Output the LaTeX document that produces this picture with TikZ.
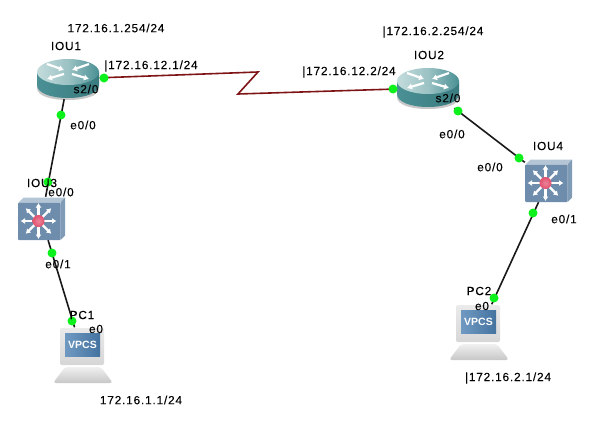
\documentclass[tikz,border=0pt]{standalone}
\usepackage{fontspec}
\setmainfont[LetterSpace=7,FakeBold=0.2]{Liberation Sans}
\newfontfamily\screenfont{Liberation Sans}
\usepackage{xcolor}
\usetikzlibrary{
	arrows.meta,
	calc
}
\definecolor{serialred}{HTML}{7E1416}
\definecolor{portgreen}{HTML}{0CF01C}
\definecolor{routerdark}{HTML}{3A7B7F}
\definecolor{routermid}{HTML}{4A9094}
\definecolor{routerlight}{HTML}{C4DCDC}
\definecolor{switchblue}{HTML}{6E8DAC}
\definecolor{switchlight}{HTML}{B4C6D6}
\definecolor{switchdark}{HTML}{7F9BB6}
\definecolor{screenblue}{HTML}{4C80B2}
\definecolor{hubred}{HTML}{E2506E}
\tikzset{
	routernode/.style={minimum width=63pt, minimum height=40pt, inner sep=0pt},
	switchnode/.style={minimum width=47pt, minimum height=43pt, inner sep=0pt},
	vpcsnode/.style={minimum width=60pt, minimum height=55pt, inner sep=0pt},
	port/.style={circle, fill=portgreen, minimum size=9pt, inner sep=0pt},
	wire/.style={line width=1.6pt, black!90},
	serial/.style={line width=1.6pt, serialred},
	lbl/.style={inner sep=0pt, font=\fontsize{11.8}{14}\selectfont},
	routericon/.pic={
		\fill[black!22] (-31,-4) -- (-31,9) .. controls (-31,17) and (-17,21) .. (0,21)
			.. controls (17,21) and (31,17) .. (31,9) -- (31,-4) -- cycle;
		\shade[left color=routermid, right color=routerdark] (-31,-7) -- (-31,6)
			.. controls (-31,14) and (-17,19) .. (0,19)
			.. controls (17,19) and (31,14) .. (31,6) -- (31,-7) -- cycle;
		\shade[left color=routerlight, right color=routermid, middle color=routermid!55!white]
			(0,-7) ellipse [x radius=31, y radius=13];
		\foreach \sx in {-1,1}{
			\draw[white, line width=2.2pt, -{Latex[length=5pt,width=6.5pt]}] (\sx*21,-15) -- (\sx*4,-9);
			\draw[white, line width=2.2pt, -{Latex[length=5pt,width=6.5pt]}] (\sx*4,-5) -- (\sx*21,0);
		}
	},
	switchicon/.pic={
		\fill[switchlight] (-23,-16) -- (-18,-21) -- (23.5,-21) -- (19,-16) -- cycle;
		\fill[switchdark] (19,-16) -- (23.5,-21) -- (23.5,17) -- (19,21.5) -- cycle;
		\fill[switchblue, rounded corners=1pt] (-23.5,-16) rectangle (19,21.5);
		\foreach \ang in {0,45,...,315}{
			\draw[white, line width=2.2pt, -{Latex[length=4.5pt,width=6pt]}]
				(-3,2.5) -- ++(\ang:18);
		}
		\shade[inner color=hubred!70!white, outer color=hubred] (-3,2.5) circle (6);
	},
	vpcsicon/.pic={
		\shade[top color=black!6, bottom color=black!22, rounded corners=3pt]
			(-18,12) -- (18,12) -- (30,28) -- (-30,28) -- cycle;
		\shade[top color=black!8, bottom color=black!16, rounded corners=2pt]
			(-23,-27) rectangle (21,10);
		\shade[left color=screenblue!80!white, right color=screenblue!90!black]
			(-18,-22) rectangle (17,1);
		\node[text=white, inner sep=0pt, font=\screenfont\bfseries\fontsize{10.5}{12}\selectfont]
			(screen) at (-0.5,-10.5) {VPCS};
	}
}
\begin{document}
\begin{tikzpicture}[x=1pt, y=-1pt]
	\useasboundingbox (0,0) rectangle (602,431);
	% devices
	\node[routernode] (IOU1) at (68,79) {};
	\node[routernode] (IOU2) at (428,88) {};
	\node[switchnode] (IOU3) at (41.5,218.5) {};
	\node[switchnode] (IOU4) at (548.5,180.5) {};
	\node[vpcsnode] (PC1) at (83,355) {};
	\node[vpcsnode] (PC2) at (479,332) {};
	\pic (IOU1icon) at (IOU1) {routericon};
	\pic (IOU2icon) at (IOU2) {routericon};
	\pic (IOU3icon) at (IOU3) {switchicon};
	\pic (IOU4icon) at (IOU4) {switchicon};
	\pic (PC1icon) at (PC1) {vpcsicon};
	\pic (PC2icon) at (PC2) {vpcsicon};
	% links
	\coordinate (bendA) at (258,72);
	\coordinate (bendB) at (238,94);
	\draw[serial] (IOU1) -- (bendA) -- (bendB) -- (IOU2);
	\draw[wire] (IOU1) -- (IOU3);
	\draw[wire] (IOU3) -- (PC1);
	\draw[wire] (IOU2) -- (IOU4);
	\draw[wire] (IOU4) -- (PC2);
	% ports
	\node[port] (IOU1s) at (104,78) {};
	\node[port] (IOU1e) at (61,115) {};
	\node[port] (IOU3a) at (48,182) {};
	\node[port] (IOU3b) at (52,253) {};
	\node[port] (PC1e) at (72,321) {};
	\node[port] (IOU2s) at (393,89) {};
	\node[port] (IOU2e) at (458,111) {};
	\node[port] (IOU4a) at (519,158) {};
	\node[port] (IOU4b) at (533,213) {};
	\node[port] (PC2e) at (494,298) {};
	% labels
	\node[lbl] (ipA) at (116,28) {172.16.1.254/24};
	\node[lbl] (nameA) at (66,46) {IOU1};
	\node[lbl] (ipB) at (151,66) {|172.16.12.1/24};
	\node[lbl] (portA) at (86,89) {s2/0};
	\node[lbl] (portB) at (83,125) {e0/0};
	\node[lbl] (nameC) at (42,183) {IOU3};
	\node[lbl] (portC) at (61,192) {e0/0};
	\node[lbl] (portD) at (58,264) {e0/1};
	\node[lbl] (namePA) at (82,315) {PC1};
	\node[lbl] (portE) at (96,329) {e0};
	\node[lbl] (ipC) at (141,400) {172.16.1.1/24};
	\node[lbl] (ipD) at (433,32) {|172.16.2.254/24};
	\node[lbl] (nameB) at (429,55) {IOU2};
	\node[lbl] (ipE) at (349,72) {|172.16.12.2/24};
	\node[lbl] (portF) at (448,98) {s2/0};
	\node[lbl] (portG) at (452,134) {e0/0};
	\node[lbl] (portH) at (490,167) {e0/0};
	\node[lbl] (nameD) at (548,146) {IOU4};
	\node[lbl] (portI) at (564,219) {e0/1};
	\node[lbl] (namePB) at (479,291) {PC2};
	\node[lbl] (portJ) at (482,306) {e0};
	\node[lbl] (ipF) at (508,378) {|172.16.2.1/24};
\end{tikzpicture}
\end{document}
